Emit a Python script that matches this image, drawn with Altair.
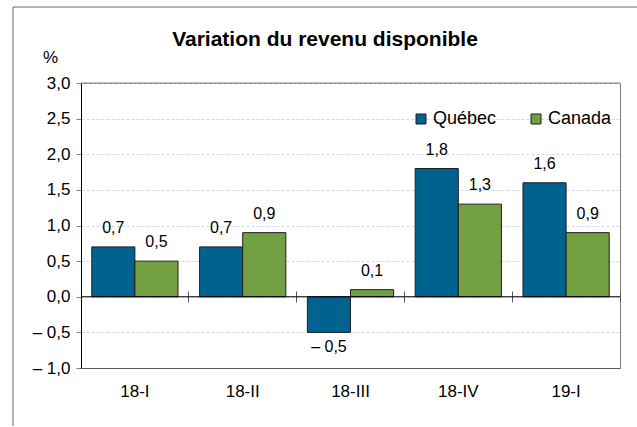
import altair as alt
import pandas as pd

categories = ["18-I", "18-II", "18-III", "18-IV", "19-I"]
series = ["Québec", "Canada"]
quebec = [0.7, 0.7, -0.5, 1.8, 1.6]
canada = [0.5, 0.9, 0.1, 1.3, 0.9]
colors = ["#00628F", "#72A043"]
y_ticks = [-1.0, -0.5, 0.0, 0.5, 1.0, 1.5, 2.0, 2.5, 3.0]
title_text = "Variation du revenu disponible"


def fr(v):
    s = f"{abs(v):.1f}".replace(".", ",")
    return ("– " + s) if v < 0 else s


rows = []
for c, q, k in zip(categories, quebec, canada):
    rows.append({"cat": c, "serie": series[0], "val": q, "lab": fr(q)})
    rows.append({"cat": c, "serie": series[1], "val": k, "lab": fr(k)})
df = pd.DataFrame(rows)

FONT = "Liberation Sans"
W, H = 539, 285

xscale = alt.Scale(domain=categories, paddingInner=0.2, paddingOuter=0.1)
yscale = alt.Scale(domain=[-1.0, 3.0], nice=False, zero=False)
xoff = alt.XOffset("serie:N", sort=series, scale=alt.Scale(domain=series, paddingInner=0, paddingOuter=0))

ylabel_expr = ("datum.value < 0 ? '–  ' + replace(format(-datum.value, '.1f'), '.', ',') "
               ": replace(format(datum.value, '.1f'), '.', ',')")

base = alt.Chart(df)

bars = base.mark_bar(stroke="#1f1f1f", strokeWidth=1).encode(
    x=alt.X("cat:N", sort=categories, scale=xscale,
            axis=alt.Axis(orient="bottom", title=None, labelAngle=0, ticks=False,
                          domainColor="#595959", labelFont=FONT, labelFontSize=17,
                          labelColor="#000000", labelPadding=15)),
    xOffset=xoff,
    y=alt.Y("val:Q", scale=yscale,
            axis=alt.Axis(values=y_ticks, labelExpr=ylabel_expr, title="%",
                          labelOverlap=False,
                          titleAngle=0, titleX=-31, titleY=-21, titleAlign="center",
                          titleBaseline="alphabetic", titleFont=FONT, titleFontSize=17,
                          titleFontWeight="normal", titleColor="#000000",
                          labelFont=FONT, labelFontSize=17, labelColor="#000000",
                          labelPadding=6, tickSize=5, tickColor="#808080",
                          domainColor="#000000", grid=True, gridColor="#C9DAEE",
                          gridDash=[3, 2], gridWidth=1)),
    color=alt.Color("serie:N", sort=series, scale=alt.Scale(domain=series, range=colors),
                    legend=alt.Legend(orient="none", legendX=331, legendY=27,
                                      direction="horizontal", title=None,
                                      symbolType="square", symbolSize=100,
                                      symbolStrokeColor="#1f1f1f", symbolStrokeWidth=1,
                                      labelFont=FONT, labelFontSize=18, labelColor="#000000",
                                      labelOffset=3, columnPadding=30)),
)

labels_pos = base.transform_filter("datum.val >= 0").mark_text(
    font=FONT, fontSize=16, color="#000000", baseline="alphabetic", dy=-14
).encode(
    x=alt.X("cat:N", sort=categories, scale=xscale,
            axis=alt.Axis(orient="top", labels=False, domain=False, title=None,
                          ticks=True, tickSize=11, tickColor="#595959", offset=-219,
                          bandPosition=1.125, grid=False)),
    xOffset=xoff,
    y=alt.Y("val:Q", scale=yscale, axis=None),
    text="lab:N",
)

labels_neg = base.transform_filter("datum.val < 0").mark_text(
    font=FONT, fontSize=16, color="#000000", baseline="alphabetic", dy=20
).encode(
    x=alt.X("cat:N", sort=categories, scale=xscale, axis=None),
    xOffset=xoff,
    y=alt.Y("val:Q", scale=yscale, axis=None),
    text="lab:N",
)

one = alt.Chart(pd.DataFrame({"t": [title_text]}))

zero_rule = one.mark_rule(color="#000000", strokeWidth=1).encode(
    y=alt.YDatum(0.0, axis=None))
top_rule = one.mark_rule(color="#808080", strokeWidth=1).encode(
    y=alt.YDatum(3.0, axis=None))

frame_top = one.mark_rule(color="#6b6b6b", strokeWidth=1).encode(
    x=alt.value(-68), x2=alt.value(560), y=alt.value(-76))
frame_left = one.mark_rule(color="#6b6b6b", strokeWidth=1).encode(
    x=alt.value(-68), y=alt.value(-76), y2=alt.value(343))

title = one.mark_text(font=FONT, fontSize=21, fontWeight="bold", color="#000000",
                      baseline="alphabetic", align="center").encode(
    text="t:N", x=alt.value(244), y=alt.value(-37))

chart = alt.layer(
    bars, labels_pos, labels_neg, zero_rule, top_rule, frame_top, frame_left, title
).resolve_axis(x="independent", y="independent").properties(
    width=W, height=H,
    padding={"left": 81, "top": 83, "right": 17, "bottom": 59},
    autosize=alt.AutoSizeParams(type="none"),
    background="#ffffff",
).configure_view(stroke="#808080", strokeWidth=1)

chart.save("out.html", embed_options={"renderer": "svg", "actions": False})
